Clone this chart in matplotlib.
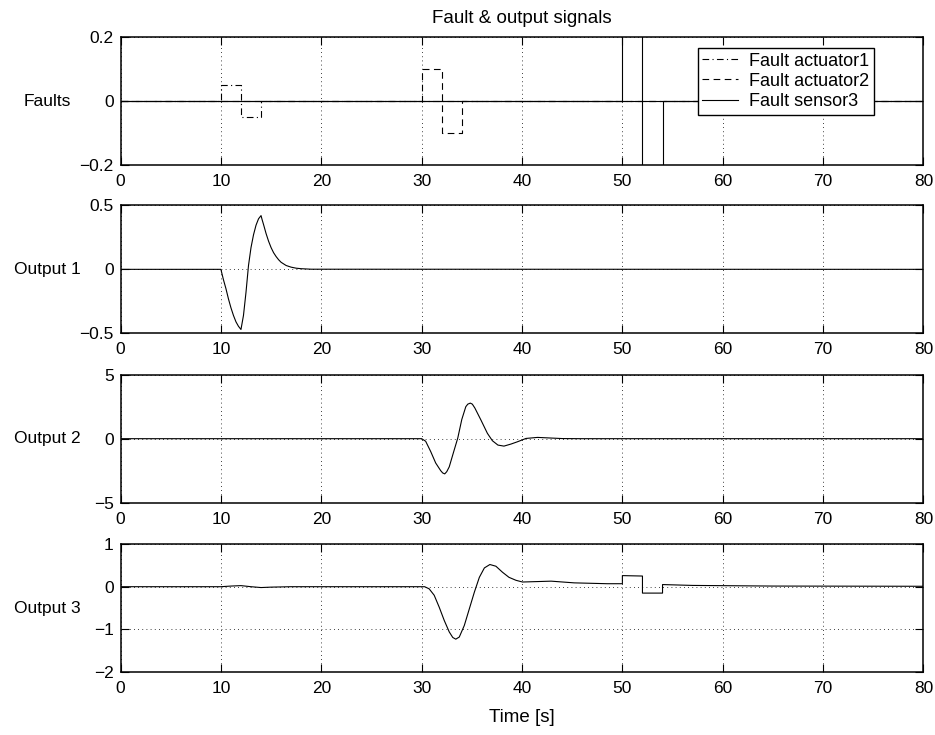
import matplotlib
matplotlib.use('Agg')
import matplotlib.pyplot as plt

plt.rcParams['font.family'] = ['Liberation Sans', 'DejaVu Sans']
plt.rcParams['font.size'] = 12.5

# fault signals, step breakpoints (value holds until next time)
t_fault_a1 = [0, 10, 12, 14, 80]
f_a1 = [0, 0.05, -0.05, 0, 0]
t_fault_a2 = [0, 30, 32, 34, 80]
f_a2 = [0, 0.1, -0.1, 0, 0]
t_fault_s3 = [0, 50, 52, 54, 80]
f_s3 = [0, 1.0, -1.0, 0, 0]

# output 1
t_out1 = [0, 10, 10.25, 10.5, 10.75, 11.0, 11.25, 11.5, 11.75, 12.0, 12.25, 12.5, 12.75,
          13.0, 13.25, 13.5, 13.75, 14.0, 14.1, 14.25, 14.5, 14.75, 15.0, 15.25, 15.5,
          15.75, 16.0, 16.5, 17.0, 17.5, 18.0, 19.0, 80]
y_out1 = [0, 0, -0.08, -0.15, -0.23, -0.30, -0.36, -0.41, -0.445, -0.47, -0.36, -0.18, 0.03,
          0.17, 0.27, 0.345, 0.395, 0.42, 0.39, 0.35, 0.28, 0.22, 0.17, 0.13, 0.10,
          0.075, 0.055, 0.03, 0.017, 0.009, 0.005, 0.001, 0]

# output 2
t_out2 = [0, 30, 30.4, 30.9, 31.4, 31.9, 32.1, 32.3, 32.5, 32.75, 33.2, 33.6, 34.0, 34.4,
          34.6, 34.85, 35.05, 35.3, 35.9, 36.55, 37.05, 37.6, 38.2, 38.9, 39.55, 40.4,
          41.55, 42.9, 44.0, 46.0, 80]
y_out2 = [0, 0, -0.2, -1.0, -1.9, -2.5, -2.68, -2.75, -2.58, -2.2, -1.0, 0.05, 1.5, 2.5,
          2.7, 2.78, 2.7, 2.4, 1.47, 0.42, -0.16, -0.5, -0.58, -0.42, -0.24, 0.02,
          0.1, 0.05, 0.01, 0, 0]

# output 3
t_out3 = [0, 10, 11, 12, 13, 14, 15, 17, 30.3, 30.75, 31.25, 31.75, 32.25, 32.75, 33.1,
          33.4, 33.75, 34.25, 34.75, 35.25, 35.75, 36.25, 36.8, 37.4, 38.05, 38.7, 39.4,
          40.05, 41.5, 42.9, 45.2, 48.5, 50.0, 50.0, 52.0, 52.0, 54.0, 54.0, 57.0, 65.0, 80]
y_out3 = [0, 0, 0.015, 0.025, 0.0, -0.02, -0.01, 0, 0, -0.05, -0.2, -0.48, -0.79, -1.06, -1.19,
          -1.23, -1.18, -0.91, -0.52, -0.13, 0.22, 0.44, 0.52, 0.48, 0.34, 0.22, 0.15,
          0.11, 0.12, 0.13, 0.09, 0.07, 0.07, 0.26, 0.25, -0.15, -0.15, 0.05, 0.03, 0.015, 0.01]

x_ticks = [0, 10, 20, 30, 40, 50, 60, 70, 80]
ylabels = ['Faults', 'Output 1', 'Output 2', 'Output 3']
ylims = [(-0.2, 0.2), (-0.5, 0.5), (-5, 5), (-2, 1)]
yticks = [[-0.2, 0, 0.2], [-0.5, 0, 0.5], [-5, 0, 5], [-2, -1, 0, 1]]
yticklabels = [['\u22120.2', '0', '0.2'], ['\u22120.5', '0', '0.5'],
               ['\u22125', '0', '5'], ['\u22122', '\u22121', '0', '1']]

fig = plt.figure(figsize=(9.35, 7.35), dpi=100)
left, width, height = 0.1289, 0.8588, 0.1741
bottoms = [0.7755, 0.5465, 0.3161, 0.0857]
axes = [fig.add_axes([left, b, width, height]) for b in bottoms]

lw = 0.8
ax = axes[0]
ax.axhline(0, color='black', lw=lw)
ax.plot(t_fault_a1, f_a1, drawstyle='steps-post', color='black', lw=lw,
        linestyle=(0, (6, 3, 1, 3)), label='Fault actuator1')
ax.plot(t_fault_a2, f_a2, drawstyle='steps-post', color='black', lw=lw,
        linestyle=(0, (6, 4)), label='Fault actuator2')
ax.plot(t_fault_s3, f_s3, drawstyle='steps-post', color='black', lw=lw,
        label='Fault sensor3')
leg = ax.legend(loc='upper right', bbox_to_anchor=(0.938, 0.914), borderaxespad=0,
                fancybox=False, framealpha=1, edgecolor='black', fontsize=13,
                handlelength=2.0, handletextpad=0.6, labelspacing=0.18, borderpad=0.25)
leg.get_frame().set_linewidth(1.0)
ax.set_title('Fault & output signals', fontsize=13.5, pad=10)

axes[1].plot(t_out1, y_out1, color='black', lw=lw)
axes[2].plot(t_out2, y_out2, color='black', lw=lw)
axes[3].plot(t_out3, y_out3, color='black', lw=lw)

for i, ax in enumerate(axes):
    ax.set_xlim(0, 80)
    ax.set_ylim(*ylims[i])
    ax.set_xticks(x_ticks)
    ax.set_yticks(yticks[i])
    ax.set_yticklabels(yticklabels[i])
    ax.tick_params(direction='in', length=6, width=0.8, top=True, right=True,
                   labelsize=12.5)
    ax.tick_params(axis='x', pad=6.5)
    ax.tick_params(axis='y', pad=5)
    ax.set_axisbelow(True)
    ax.grid(True, linestyle=(0, (1, 4)), color='black', lw=0.6)
    for s in ax.spines.values():
        s.set_linewidth(1.1)
    ax.set_ylabel(ylabels[i], rotation=0, ha='center', va='center', fontsize=12.5)
    ax.yaxis.set_label_coords(-0.0915, 0.5)

axes[3].set_xlabel('Time [s]', fontsize=13.5, labelpad=9)

fig.savefig('out.png', dpi=100)
